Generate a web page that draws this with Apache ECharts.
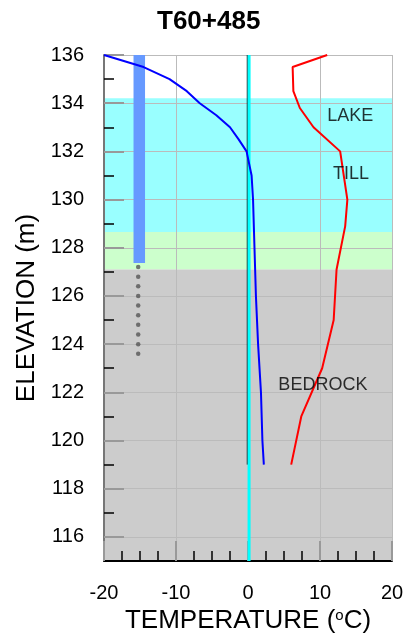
<!DOCTYPE html>
<html><head><meta charset="utf-8">
<script src="https://cdn.jsdelivr.net/npm/echarts@6/dist/echarts.min.js"></script>
<style>html,body{margin:0;padding:0;background:#fff}#c{width:408px;height:642px}</style>
</head><body><div id="c"></div>
<script>
// ---- data ----
const titleText = 'T60+485';
const xTickValues = [-20, -10, 0, 10, 20];
const yMajorTicks = [116, 118, 120, 122, 124, 126, 128, 130, 132, 134, 136];
const yMinorTicks = [115, 117, 119, 121, 123, 125, 127, 129, 131, 133, 135];

// soil bands (elevation top / bottom, m)
const bandTop = [134.2, 128.65, 127.1];
const bandBottom = [128.65, 127.1, 115];

// layer labels
const layerNames = ['LAKE', 'TILL', 'BEDROCK'];
const layerLabelT = [14.2, 14.3, 10.4];
const layerLabelZ = [133.45, 131.07, 122.3];

// borehole (cased part + dotted part)
const boreholeT = [-15.9, -14.3];
const boreholeZ = [136, 127.37];
const boreholeDotT = -15.25;
const boreholeDotZ = [127.2, 126.8, 126.4, 126.0, 125.6, 125.2, 124.8, 124.4, 124.0, 123.6];

// temperature profiles: [temperature, elevation]
const winterT = [-20, -14.5, -10.9, -8.5, -6.7, -4.4, -2.5, -1.3, -0.2, 0.5, 0.7, 0.9, 1.1, 1.4, 1.8, 2.0, 2.2];
const winterZ = [136, 135.5, 135, 134.5, 134, 133.5, 133, 132.5, 132, 131, 130, 128, 126, 124, 122, 120, 119];
const summerT = [11.0, 6.2, 6.3, 7.2, 9.1, 12.8, 13.8, 13.5, 12.3, 11.9, 10.3, 7.4, 6.0];
const summerZ = [136, 135.5, 134.5, 133.8, 133, 132, 130, 128.9, 127.1, 125, 123, 121, 119];

// zero-degree reference lines
const zeroLineT = [-0.1, -0.1];
const zeroLineZ = [136, 119];
const freezeLineT = [0.15, 0.15];
const freezeLineZ = [115, 136];

// ---- styles ----
const bandColors = ['#99FFFF', '#CCFFCC', '#CCCCCC'];
const FONT = 'Liberation Sans, Arial, sans-serif';

const zip = (a, b) => a.map((v, i) => [v, b[i]]);

const chart = echarts.init(document.getElementById('c'), null, {renderer: 'canvas'});

const option = {
  animation: false,
  backgroundColor: '#fff',
  title: {
    text: titleText, left: 152, top: 4, padding: 5,
    textStyle: {fontFamily: FONT, fontSize: 26, fontWeight: 'bold', color: '#000'}
  },
  grid: {left: 104, right: 16, top: 55, bottom: 81, outerBoundsMode: 'none', containLabel: false},
  xAxis: {
    type: 'value', min: -20, max: 20, interval: 10,
    name: 'TEMPERATURE ({s|o}C)',
    nameLocation: 'middle', nameGap: 46,
    nameTextStyle: {fontFamily: FONT, fontSize: 26, color: '#000',
      rich: {s: {fontFamily: FONT, fontSize: 15, verticalAlign: 'top', padding: [0, 0, 10, 0], color: '#000'}}},
    axisLine: {show: true, onZero: false, lineStyle: {color: '#000', width: 2}},
    axisTick: {show: true, inside: true, length: 20, lineStyle: {color: '#999', width: 2}},
    minorTick: {show: true, splitNumber: 4, length: 10, lineStyle: {color: '#000', width: 1.5}},
    axisLabel: {fontFamily: FONT, fontSize: 20, color: '#000', margin: 22},
    splitLine: {show: true, lineStyle: {color: '#BBBBBB', width: 1}},
    minorSplitLine: {show: false}
  },
  yAxis: [{
    type: 'value', min: 115, max: 136, interval: 1,
    name: 'ELEVATION (m)', nameLocation: 'middle', nameGap: 64, nameRotate: 90,
    nameTextStyle: {fontFamily: FONT, fontSize: 26, color: '#000'},
    axisLine: {show: true, onZero: false, lineStyle: {color: '#777', width: 2}},
    axisTick: {show: true, inside: true, length: 20, customValues: yMajorTicks, lineStyle: {color: '#999', width: 2}},
    axisLabel: {fontFamily: FONT, fontSize: 20, color: '#000', margin: 20, customValues: yMajorTicks},
    splitLine: {show: true, lineStyle: {color: '#BBBBBB', width: 1}}
  }, {
    type: 'value', min: 115, max: 136, interval: 1, position: 'left', offset: 0,
    axisLine: {show: false, onZero: false},
    axisTick: {show: true, inside: true, length: 10, customValues: yMinorTicks, lineStyle: {color: '#000', width: 1.5}},
    axisLabel: {show: false},
    splitLine: {show: false}
  }],
  series: [
    {
      type: 'scatter', data: [], z: -1, silent: true,
      markArea: {
        silent: true, z: -1,
        data: bandTop.map((t, i) => [
          {yAxis: t, xAxis: -20, itemStyle: {color: bandColors[i]}},
          {yAxis: bandBottom[i], xAxis: 20}
        ])
      }
    },
    {
      type: 'scatter', data: [], z: 1, silent: true,
      markArea: {
        silent: true, z: 1,
        itemStyle: {color: '#6699FF'},
        data: [[{coord: [boreholeT[0], boreholeZ[0]]}, {coord: [boreholeT[1], boreholeZ[1]]}]]
      }
    },
    {
      type: 'scatter', z: 3, symbolSize: 4.5, silent: true,
      itemStyle: {color: '#555'},
      data: boreholeDotZ.map(z => [boreholeDotT, z])
    },
    {
      type: 'line', z: 3, showSymbol: false, symbol: 'none', silent: true,
      lineStyle: {color: '#000', width: 1},
      data: zip(zeroLineT, zeroLineZ)
    },
    {
      type: 'line', z: 4, showSymbol: false, symbol: 'none', silent: true,
      lineStyle: {color: '#00FFFF', width: 3},
      data: zip(freezeLineT, freezeLineZ)
    },
    {
      type: 'line', z: 5, showSymbol: false, symbol: 'none', silent: true,
      lineStyle: {color: '#0000FF', width: 2},
      data: zip(winterT, winterZ)
    },
    {
      type: 'line', z: 5, showSymbol: false, symbol: 'none', silent: true,
      lineStyle: {color: '#FF0000', width: 2},
      data: zip(summerT, summerZ)
    },
    {
      type: 'scatter', z: 6, symbolSize: 0, silent: true,
      label: {show: true, position: 'inside', formatter: '{b}', fontFamily: FONT, fontSize: 18, color: '#000'},
      data: layerNames.map((n, i) => ({name: n, value: [layerLabelT[i], layerLabelZ[i]]}))
    }
  ]
};
chart.setOption(option);
</script>
</body></html>
